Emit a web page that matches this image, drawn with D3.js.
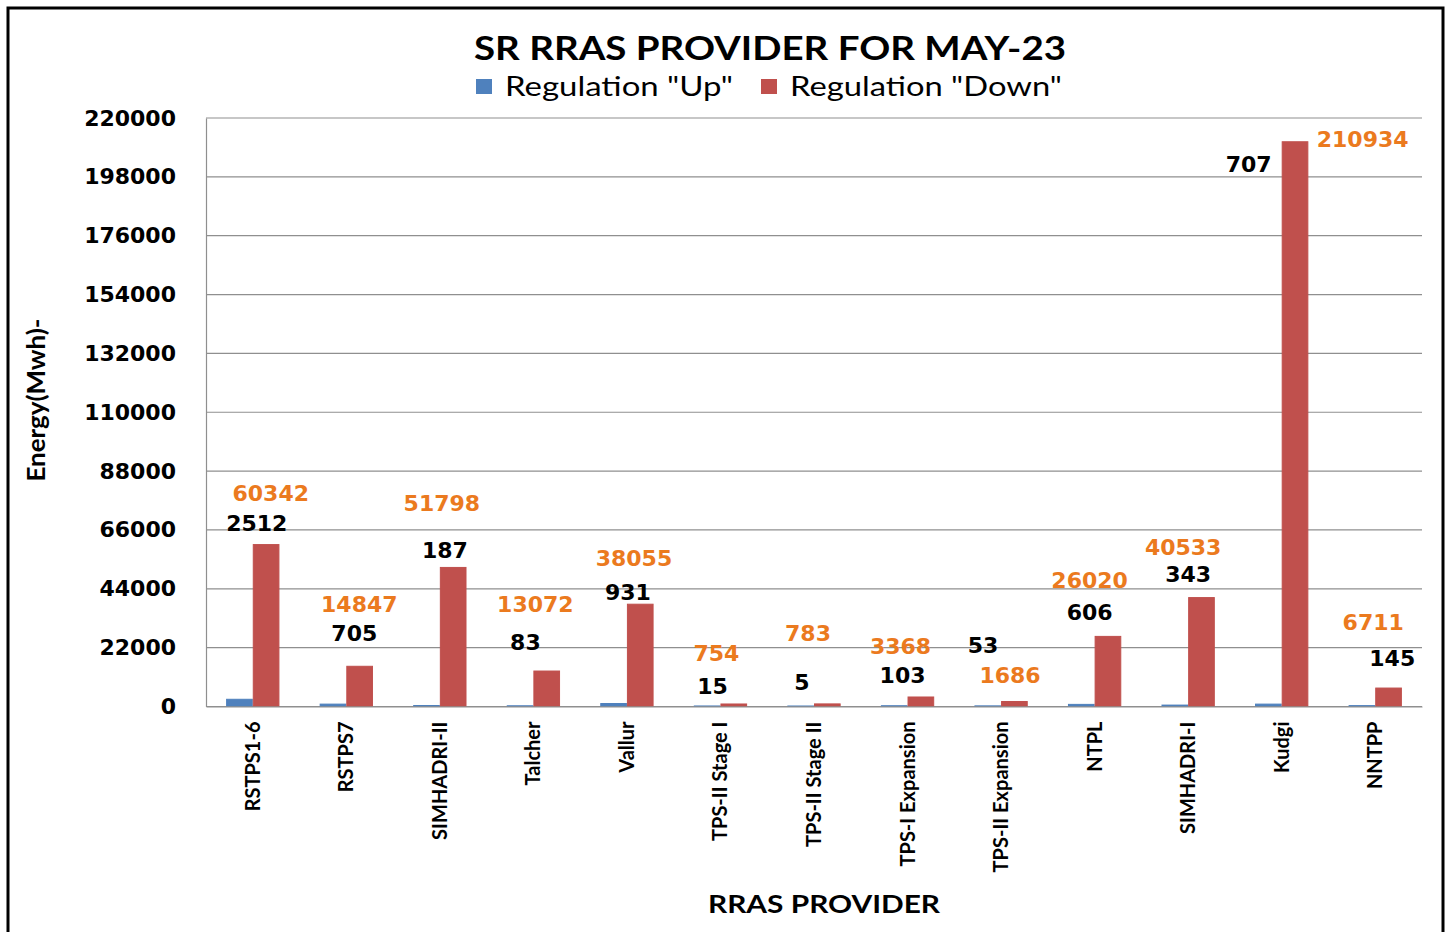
<!DOCTYPE html>
<html>
<head>
<meta charset="utf-8">
<script src="https://cdn.jsdelivr.net/npm/d3@7"></script>
<style>
  body { margin: 0; background: #fff; }
  svg { display: block; }
</style>
</head>
<body>
<div id="chart"></div>
<script>
// Data
const providers = ['RSTPS1-6', 'RSTPS7', 'SIMHADRI-II', 'Talcher', 'Vallur', 'TPS-II Stage I',
    'TPS-II Stage II', 'TPS-I Expansion', 'TPS-II Expansion', 'NTPL', 'SIMHADRI-I', 'Kudgi', 'NNTPP'];
const regUp = [2512, 705, 187, 83, 931, 15, 5, 103, 53, 606, 343, 707, 145];
const regDown = [60342, 14847, 51798, 13072, 38055, 754, 783, 3368, 1686, 26020, 40533, 210934, 6711];
const yTicks = [0, 22000, 44000, 66000, 88000, 110000, 132000, 154000, 176000, 198000, 220000];
const seriesNames = ['Regulation "Up"', 'Regulation "Down"'];

// hand-placed label nudges (px) relative to category centre / red bar top, like the Excel original
const upNudge = [[4, -22], [8, -34], [5, -18], [-8, -29], [1, -13], [-8, -18], [-12, -22],
    [-5, -22], [-18, -57], [-5, -25], [0, -24], [-33, 22], [17, -30]];
const downNudge = [[18, -52], [13, -63], [2, -65], [2, -67], [7, -47], [-4, -51], [-6, -71],
    [-7, -51], [9, -27], [-5, -57], [-5, -51], [81, -3], [-2, -66]];

const svgWidth = 1453, svgHeight = 932;
const margin = {top: 118, right: 31, bottom: 225.5, left: 206};
const width = svgWidth - margin.left - margin.right;
const height = svgHeight - margin.top - margin.bottom;
const blue = '#4F81BD', red = '#C0504D', orange = '#EB7A1E';
const numFont = '"DejaVu Sans", Verdana, sans-serif';
const txtFont = 'Lato, "Open Sans", sans-serif';

const root = d3.select('#chart').append('svg')
    .attr('width', svgWidth)
    .attr('height', svgHeight);

root.append('rect')
    .attr('x', 8).attr('y', 8)
    .attr('width', 1435).attr('height', 940)
    .attr('fill', 'none').attr('stroke', '#000').attr('stroke-width', 3);

const svg = root.append('g')
    .attr('transform', `translate(${margin.left},${margin.top})`);

const x0 = d3.scaleBand()
    .domain(providers)
    .range([0, width])
    .paddingInner(0.43)
    .paddingOuter(0.215);
const x1 = d3.scaleBand()
    .domain(['up', 'down'])
    .range([0, x0.bandwidth()]);
const y = d3.scaleLinear()
    .domain([0, 220000])
    .range([height, 0]);

// gridlines
svg.append('g')
    .selectAll('line')
    .data(yTicks)
    .join('line')
    .attr('x1', 0).attr('x2', width)
    .attr('y1', d => y(d)).attr('y2', d => y(d))
    .attr('stroke', '#8f8f8f').attr('stroke-width', 1.2);

// y axis
const yAxis = svg.append('g')
    .call(d3.axisLeft(y).tickValues(yTicks).tickSize(0).tickPadding(30).tickFormat(d3.format('d')));
yAxis.select('.domain').attr('stroke', '#8f8f8f').attr('stroke-width', 1.2);
yAxis.selectAll('text')
    .attr('font-family', numFont)
    .attr('font-weight', 'bold')
    .attr('font-size', 22)
    .attr('fill', '#000');

// bars
const groups = svg.selectAll('g.cat')
    .data(providers.map((p, i) => ({p, up: regUp[i], down: regDown[i], i})))
    .join('g')
    .attr('class', 'cat')
    .attr('transform', d => `translate(${x0(d.p)},0)`);

groups.append('rect')
    .attr('x', x1('up') + 0.5)
    .attr('y', d => y(d.up) - 0.5)
    .attr('width', x1.bandwidth() - 1)
    .attr('height', d => height - y(d.up))
    .attr('fill', blue)
    .attr('stroke', blue).attr('stroke-width', 1);
groups.append('rect')
    .attr('x', x1('down') + 0.5)
    .attr('y', d => y(d.down) - 0.5)
    .attr('width', x1.bandwidth() - 1)
    .attr('height', d => height - y(d.down))
    .attr('fill', red)
    .attr('stroke', red).attr('stroke-width', 1);

// x axis
const xAxis = svg.append('g')
    .attr('transform', `translate(0,${height})`)
    .call(d3.axisBottom(x0).tickSize(0).tickPadding(0));
xAxis.select('.domain').attr('stroke', '#8f8f8f').attr('stroke-width', 1.2);
xAxis.selectAll('text')
    .attr('transform', 'rotate(-90)')
    .attr('x', -15)
    .attr('y', 0)
    .attr('dy', '0.35em')
    .style('text-anchor', 'end')
    .attr('font-family', txtFont)
    .attr('font-weight', 'bold')
    .attr('font-size', 20)
    .attr('fill', '#000');

// data labels
groups.append('text')
    .attr('x', d => x0.bandwidth() / 2 + downNudge[d.i][0])
    .attr('y', d => y(d.down) + downNudge[d.i][1])
    .attr('dy', '0.36em')
    .attr('text-anchor', 'middle')
    .attr('font-family', numFont)
    .attr('font-weight', 'bold')
    .attr('font-size', 22)
    .attr('fill', orange)
    .text(d => d.down);
groups.append('text')
    .attr('x', d => x0.bandwidth() / 2 + upNudge[d.i][0])
    .attr('y', d => y(d.down) + upNudge[d.i][1])
    .attr('dy', '0.36em')
    .attr('text-anchor', 'middle')
    .attr('font-family', numFont)
    .attr('font-weight', 'bold')
    .attr('font-size', 22)
    .attr('fill', '#000')
    .text(d => d.up);

// title
root.append('text')
    .attr('x', 770).attr('y', 60)
    .attr('text-anchor', 'middle')
    .attr('font-family', txtFont)
    .attr('font-weight', 'bold')
    .attr('font-size', 32)
    .attr('textLength', 592)
    .attr('lengthAdjust', 'spacingAndGlyphs')
    .attr('fill', '#000')
    .text('SR RRAS PROVIDER FOR MAY-23');

// legend
const legend = root.append('g').attr('transform', 'translate(476,79)');
const legendX = [0, 285];
const legendLen = [228, 272];
seriesNames.forEach((name, i) => {
    legend.append('rect')
        .attr('x', legendX[i]).attr('y', 0)
        .attr('width', 16).attr('height', 15)
        .attr('fill', i === 0 ? blue : red);
    legend.append('text')
        .attr('x', legendX[i] + 29).attr('y', 17)
        .attr('font-family', txtFont)
        .attr('font-size', 27)
        .attr('textLength', legendLen[i])
        .attr('lengthAdjust', 'spacingAndGlyphs')
        .attr('fill', '#000')
        .text(name);
});

// axis titles
root.append('text')
    .attr('x', 824).attr('y', 913)
    .attr('text-anchor', 'middle')
    .attr('font-family', txtFont)
    .attr('font-weight', 'bold')
    .attr('font-size', 25)
    .attr('textLength', 232)
    .attr('lengthAdjust', 'spacingAndGlyphs')
    .attr('fill', '#000')
    .text('RRAS PROVIDER');
root.append('text')
    .attr('transform', 'translate(45,400) rotate(-90)')
    .attr('text-anchor', 'middle')
    .attr('font-family', txtFont)
    .attr('font-weight', 'bold')
    .attr('font-size', 24)
    .attr('textLength', 163)
    .attr('lengthAdjust', 'spacingAndGlyphs')
    .attr('fill', '#000')
    .text('Energy(Mwh)-');
</script>
</body>
</html>
